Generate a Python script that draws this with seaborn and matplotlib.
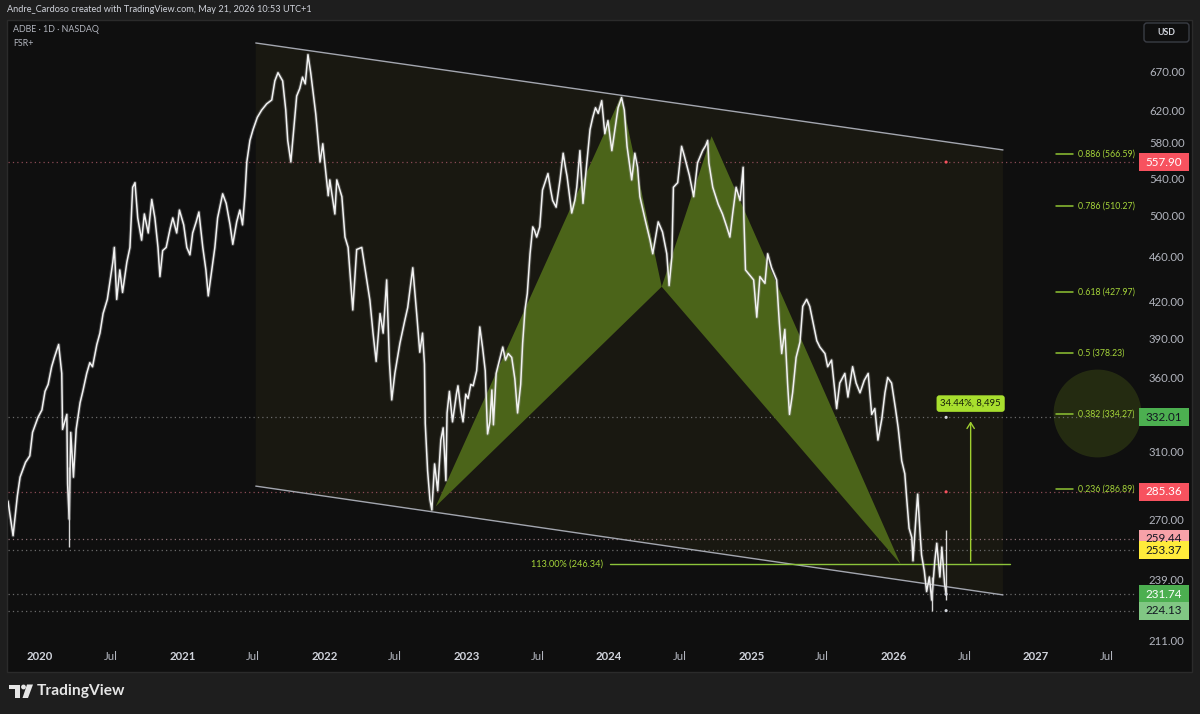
import pandas as pd
import matplotlib
matplotlib.use("Agg")
import matplotlib.pyplot as plt
import matplotlib.dates as mdates
import matplotlib.patches as mpatches
import matplotlib.transforms as mtransforms
from matplotlib.ticker import NullLocator, NullFormatter
import seaborn as sns

sns.set_theme(style="dark")
plt.rcParams["font.family"] = ["Lato", "DejaVu Sans"]

# ---------------- data ----------------
header_text = "Andre_Cardoso created with TradingView.com, May 21, 2026 10:53 UTC+1"
symbol_text = "ADBE · 1D · NASDAQ"
indicator_text = "FSR+"

price_dates = [
    "2019-10-11", "2019-10-24", "2019-11-04", "2019-11-11", "2019-11-25", "2019-12-06", "2019-12-13", "2019-12-27",
    "2020-01-06", "2020-01-14", "2020-01-22", "2020-01-31", "2020-02-07", "2020-02-18", "2020-02-26", "2020-02-28",
    "2020-03-10", "2020-03-12", "2020-03-16", "2020-03-20", "2020-03-27", "2020-04-03", "2020-04-13", "2020-04-20",
    "2020-04-30", "2020-05-08", "2020-05-15", "2020-05-26", "2020-06-03", "2020-06-11", "2020-06-22", "2020-06-29",
    "2020-07-06", "2020-07-10", "2020-07-16", "2020-07-24", "2020-07-31", "2020-08-11", "2020-08-19", "2020-08-26",
    "2020-09-01", "2020-09-08", "2020-09-18", "2020-09-25", "2020-10-05", "2020-10-14", "2020-10-22", "2020-10-30",
    "2020-11-04", "2020-11-11", "2020-11-20", "2020-11-30", "2020-12-07", "2020-12-17", "2020-12-24", "2021-01-04",
    "2021-01-12", "2021-01-20", "2021-01-27", "2021-02-05", "2021-02-12", "2021-02-22", "2021-03-02", "2021-03-08",
    "2021-03-17", "2021-03-25", "2021-04-01", "2021-04-14", "2021-04-23", "2021-05-03", "2021-05-10", "2021-05-20",
    "2021-05-28", "2021-06-04", "2021-06-10", "2021-06-15", "2021-06-23", "2021-07-01", "2021-07-12", "2021-07-23",
    "2021-08-05", "2021-08-18", "2021-08-26", "2021-09-03", "2021-09-15", "2021-09-23", "2021-09-28", "2021-10-06",
    "2021-10-11", "2021-10-21", "2021-10-29", "2021-11-05", "2021-11-12", "2021-11-19", "2021-11-26", "2021-12-09",
    "2021-12-20", "2021-12-27", "2022-01-10", "2022-01-14", "2022-01-27", "2022-02-01", "2022-02-14", "2022-02-22",
    "2022-03-02", "2022-03-14", "2022-03-24", "2022-04-06", "2022-04-19", "2022-04-27", "2022-05-05", "2022-05-13",
    "2022-05-23", "2022-05-31", "2022-06-09", "2022-06-16", "2022-06-22", "2022-06-30", "2022-07-13", "2022-07-26",
    "2022-08-02", "2022-08-15", "2022-08-25", "2022-09-02", "2022-09-09", "2022-09-14", "2022-09-16", "2022-09-22",
    "2022-09-28", "2022-10-03", "2022-10-10", "2022-10-18", "2022-10-26", "2022-11-01", "2022-11-08", "2022-11-11",
    "2022-11-17", "2022-11-25", "2022-12-05", "2022-12-09", "2022-12-16", "2022-12-22", "2022-12-29", "2023-01-04",
    "2023-01-11", "2023-01-17", "2023-01-26", "2023-02-03", "2023-02-10", "2023-02-17", "2023-02-23", "2023-03-01",
    "2023-03-06", "2023-03-10", "2023-03-17", "2023-04-03", "2023-04-10", "2023-04-17", "2023-04-26", "2023-05-04",
    "2023-05-11", "2023-05-19", "2023-05-24", "2023-05-30", "2023-06-05", "2023-06-12", "2023-06-19", "2023-06-23",
    "2023-06-29", "2023-07-07", "2023-07-14", "2023-07-28", "2023-08-04", "2023-08-09", "2023-08-18", "2023-08-28",
    "2023-09-05", "2023-09-12", "2023-09-15", "2023-09-27", "2023-10-05", "2023-10-10", "2023-10-18", "2023-10-26",
    "2023-11-03", "2023-11-13", "2023-11-20", "2023-11-27", "2023-12-04", "2023-12-13", "2023-12-21", "2023-12-29",
    "2024-01-08", "2024-01-16", "2024-01-24", "2024-02-02", "2024-02-09", "2024-02-16", "2024-02-28", "2024-03-07",
    "2024-03-14", "2024-03-20", "2024-04-02", "2024-04-15", "2024-04-22", "2024-05-06", "2024-05-17", "2024-05-28",
    "2024-06-03", "2024-06-10", "2024-06-14", "2024-06-25", "2024-07-05", "2024-07-12", "2024-07-25", "2024-08-05",
    "2024-08-15", "2024-08-28", "2024-09-05", "2024-09-10", "2024-09-13", "2024-09-23", "2024-10-07", "2024-10-18",
    "2024-10-29", "2024-11-06", "2024-11-13", "2024-11-22", "2024-12-02", "2024-12-10", "2024-12-12", "2024-12-16",
    "2025-01-06", "2025-01-14", "2025-01-22", "2025-02-04", "2025-02-11", "2025-02-21", "2025-03-06", "2025-03-13",
    "2025-03-19", "2025-03-27", "2025-04-03", "2025-04-08", "2025-04-16", "2025-04-25", "2025-05-05", "2025-05-12",
    "2025-05-22", "2025-05-30", "2025-06-06", "2025-06-17", "2025-06-25", "2025-07-08", "2025-07-15", "2025-07-25",
    "2025-08-01", "2025-08-07", "2025-08-15", "2025-08-28", "2025-09-05", "2025-09-17", "2025-09-26", "2025-10-06",
    "2025-10-17", "2025-10-27", "2025-11-05", "2025-11-13", "2025-11-21", "2025-12-01", "2025-12-09", "2025-12-16",
    "2025-12-26", "2026-01-05", "2026-01-12", "2026-01-21", "2026-01-29", "2026-02-03", "2026-02-09", "2026-02-16",
    "2026-02-19", "2026-02-26", "2026-03-03", "2026-03-09", "2026-03-13", "2026-03-20", "2026-03-26", "2026-04-02",
    "2026-04-08", "2026-04-16", "2026-04-21", "2026-04-29", "2026-05-04", "2026-05-11", "2026-05-15",
]
price_close = [
    280, 261, 283, 294, 303, 307, 322, 332,
    337, 350, 355, 368, 375, 385, 363, 324,
    334, 290, 270, 322, 294, 324, 342, 350,
    363, 371, 368, 385, 394, 410, 422, 438,
    455, 469, 422, 448, 428, 455, 469, 530,
    535, 498, 476, 502, 483, 517, 498, 469,
    442, 466, 469, 487, 498, 483, 506, 491,
    469, 462, 483, 494, 504, 469, 448, 425,
    448, 469, 498, 523, 513, 491, 472, 494,
    506, 491, 521, 558, 583, 596, 611, 620,
    628, 633, 658, 669, 658, 620, 583, 558,
    583, 638, 648, 663, 654, 694, 669, 615,
    558, 579, 521, 538, 502, 538, 520, 479,
    469, 413, 467, 469, 439, 421, 394, 372,
    410, 394, 439, 372, 344, 363, 386, 405,
    415, 450, 410, 379, 394, 370, 328, 298,
    281, 275, 302, 286, 317, 325, 292, 335,
    350, 329, 348, 354, 338, 329, 348, 345,
    355, 354, 365, 399, 383, 365, 321, 329,
    351, 327, 363, 383, 373, 378, 375, 359,
    335, 355, 386, 413, 427, 463, 489, 486,
    479, 489, 527, 545, 527, 516, 509, 538,
    568, 549, 542, 503, 516, 530, 571, 513,
    549, 596, 611, 623, 616, 632, 591, 607,
    571, 596, 623, 636, 620, 576, 538, 568,
    552, 520, 497, 476, 463, 494, 484, 463,
    434, 460, 530, 535, 576, 565, 543, 520,
    557, 571, 577, 583, 557, 530, 512, 502,
    489, 479, 502, 530, 516, 552, 497, 448,
    439, 407, 442, 436, 463, 450, 439, 402,
    378, 397, 356, 334, 349, 375, 387, 416,
    422, 416, 405, 388, 383, 378, 368, 373,
    354, 338, 356, 363, 346, 368, 356, 349,
    358, 363, 334, 338, 317, 331, 349, 360,
    356, 338, 325, 304, 296, 281, 265, 260,
    248, 269, 284, 263, 251, 243, 233, 240,
    229, 248, 257, 240, 255, 237, 231.74,
]

# long intraday wicks
wick_dates = ["2020-03-16", "2026-04-08", "2026-05-15"]
wick_low = [255.0, 224.13, 229.0]
wick_high = [300.0, 240.0, 264.0]

# parallel channel (start / end anchors)
channel_dates = ["2021-07-08", "2026-10-08"]
channel_upper = [710.7, 571.8]
channel_lower = [288.7, 231.4]

# harmonic XABCD pattern
pattern_dates = ["2022-10-13", "2024-02-01", "2024-05-15", "2024-09-20", "2026-01-18"]
pattern_prices = [277.0, 638.0, 433.0, 588.0, 246.34]

# projection line at D
proj_label = "113.00% (246.34)"
proj_price = 246.34
proj_dates = ["2024-01-03", "2026-10-25"]
proj_label_date = "2023-12-16"

# measured move from D
move_date = "2026-07-17"
move_pct = 34.44
move_label = "34.44%, 8,495"

# fibonacci retracement levels
fib_ratios = ["0.886", "0.786", "0.618", "0.5", "0.382", "0.236"]
fib_prices = [566.59, 510.27, 427.97, 378.23, 334.27, 286.89]
fib_line_dates = ["2027-02-21", "2027-04-06"]
fib_text_date = "2027-04-19"

# target zone marker
zone_date = "2027-06-06"
zone_price = 335.0

# horizontal price lines with axis tags
level_prices = [557.90, 332.01, 285.36, 259.44, 253.37, 231.74, 224.13]
level_box_colors = ["#f7525f", "#4caf50", "#f7525f", "#f7a1a8", "#ffeb3b", "#4caf50", "#81c784"]
level_text_colors = ["#ffffff", "#131722", "#ffffff", "#131722", "#131722", "#ffffff", "#131722"]
level_line_colors = ["#8c4b55", "#6b6b6b", "#8c4b55", "#8c6e74", "#6b6b6b", "#6b6b6b", "#6b6b6b"]
level_marks = [557.90, 332.01, 285.36, 231.74, 224.13]
level_mark_colors = ["#f7525f", "#d1d4dc", "#f7525f", "#d1d4dc", "#d1d4dc"]

price_ticks = [670, 620, 580, 540, 500, 460, 420, 390, 360, 310, 270, 239, 211]
year_ticks = ["2020", "2021", "2022", "2023", "2024", "2025", "2026", "2027"]
mid_ticks = ["2020-07-01", "2021-07-01", "2022-07-01", "2023-07-01", "2024-07-01",
             "2025-07-01", "2026-07-01", "2027-07-01"]

# ---------------- style ----------------
W, H = 1200, 714
BG_OUT = "#1e1e1e"
BG_PANEL = "#0f0f0f"
LIME = "#9fcf2f"
LIME_TXT = "#a6d63a"
OLIVE = "#4b6419"

fig = plt.figure(figsize=(W / 100, H / 100), dpi=100)
fig.patch.set_facecolor(BG_OUT)
ident = mtransforms.IdentityTransform()

fig.add_artist(mpatches.Rectangle((7, H - 672), 1185, 652, transform=ident,
                                  facecolor=BG_PANEL, edgecolor="#2b2b2b", lw=1, zorder=0))

ax = fig.add_axes([8 / W, (H - 645) / H, (1137 - 8) / W, (645 - 20) / H])
ax.set_facecolor("none")
for s in ax.spines.values():
    s.set_visible(False)
ax.grid(False)

to_dt = lambda seq: pd.to_datetime(pd.Series(seq))
dnum = lambda seq: mdates.date2num(pd.to_datetime(list(seq)))

# channel fill and borders
cx = dnum(channel_dates)
ax.fill([cx[0], cx[1], cx[1], cx[0]],
        [channel_upper[0], channel_upper[1], channel_lower[1], channel_lower[0]],
        color="#191811", lw=0, zorder=1)
ax.plot(cx, channel_upper, color="#a3a6af", lw=1.0, zorder=3)
ax.plot(cx, channel_lower, color="#a3a6af", lw=1.0, zorder=3)

# harmonic pattern triangles XAB and BCD
px = dnum(pattern_dates)
ax.fill(px[[0, 1, 2]], [pattern_prices[i] for i in (0, 1, 2)], color=OLIVE, lw=0, zorder=2)
ax.fill(px[[2, 3, 4]], [pattern_prices[i] for i in (2, 3, 4)], color=OLIVE, lw=0, zorder=2)

# dotted price lines
for p, c in zip(level_prices, level_line_colors):
    ax.axhline(p, color=c, lw=0.9, ls=(0, (1, 2.5)), zorder=1.5)

# price series: soft halo for the bar ranges, then the closes
sns.lineplot(x=to_dt(price_dates), y=price_close, ax=ax, color="#9a9a9a",
             linewidth=2.6, alpha=0.35, zorder=3.8)
sns.lineplot(x=to_dt(price_dates), y=price_close, ax=ax, color="#f2f2f2",
             linewidth=1.1, zorder=4)
ax.vlines(dnum(wick_dates), wick_low, wick_high, color="#d8d8d8", lw=1.0, zorder=4)

last_date = dnum([price_dates[-1]])[0]
ax.scatter([last_date] * len(level_marks), level_marks, s=5, c=level_mark_colors,
           zorder=5, linewidths=0)

# projection line at D
ax.plot(dnum(proj_dates), [proj_price, proj_price], color="#8cc43a", lw=1.0, zorder=3)
ax.text(dnum([proj_label_date])[0], proj_price, proj_label, color=LIME_TXT,
        fontsize=6.6, ha="right", va="center", zorder=5)

# measured move arrow and tag
mx = dnum([move_date])[0]
move_top = proj_price * (1 + move_pct / 100)
ax.annotate("", xy=(mx, move_top), xytext=(mx, proj_price),
            arrowprops=dict(arrowstyle="->,head_length=0.35,head_width=0.22",
                            color=LIME, lw=1.0), zorder=5)
ax.annotate(move_label, xy=(mx, move_top), xytext=(0, 15), textcoords="offset pixels",
            ha="center", va="center", fontsize=6.8, color="#16200a", zorder=6,
            bbox=dict(boxstyle="round,pad=0.4,rounding_size=0.3", fc="#a8df2e", ec="none"))

# fibonacci levels
fx = dnum(fib_line_dates)
ft = dnum([fib_text_date])[0]
for r, p in zip(fib_ratios, fib_prices):
    ax.plot(fx, [p, p], color="#8fc433", lw=1.1, zorder=3)
    ax.text(ft, p, f"{r} ({p:.2f})", color=LIME_TXT, fontsize=6.3,
            ha="left", va="center", zorder=5)

# target zone
ax.scatter([dnum([zone_date])[0]], [zone_price], s=4000, color="#262d12",
           alpha=0.95, linewidths=0, zorder=1.2, clip_on=False)

# axes scales and ticks
ax.set_yscale("log")
ax.set_ylim(209.0, 744.7)
ax.set_xlim(pd.Timestamp("2019-10-11"), pd.Timestamp("2027-09-17"))
ax.yaxis.set_minor_locator(NullLocator())
ax.yaxis.set_minor_formatter(NullFormatter())
ax.set_yticks(price_ticks)
ax.set_yticklabels([f"{v:.2f}" for v in price_ticks])
ax.yaxis.tick_right()
ax.tick_params(axis="y", length=0, pad=8.6, labelsize=8.2, colors="#b2b5be")

xt = list(pd.to_datetime([f"{y}-01-01" for y in year_ticks])) + list(pd.to_datetime(mid_ticks))
xl = year_ticks + ["Jul"] * len(mid_ticks)
ax.set_xticks(xt)
ax.set_xticklabels(xl)
ax.tick_params(axis="x", length=0, pad=4.5, labelsize=8.2, colors="#b2b5be")
for lab in ax.get_xticklabels():
    if lab.get_text() != "Jul":
        lab.set_fontweight("bold")
        lab.set_color("#d1d4dc")
ax.set_xlabel("")
ax.set_ylabel("")

# mask the time-scale strip under the price scale
fig.add_artist(mpatches.Rectangle((1137, H - 671), 54, 26, transform=ident,
                                  facecolor=BG_PANEL, lw=0, zorder=5))

# price tags on the scale
for p, fc, tc in zip(level_prices, level_box_colors, level_text_colors):
    yd = ax.transData.transform((0, p))[1]
    fig.add_artist(mpatches.Rectangle((1139, yd - 9), 50, 18, transform=ident,
                                      facecolor=fc, lw=0, zorder=6))
    fig.text(1164 / W, yd / H, f"{p:.2f}", color=tc, fontsize=8.4,
             ha="center", va="center", zorder=7)

# header and legend texts
fig.text(7 / W, 1 - 10 / H, header_text, color="#d1d4dc", fontsize=6.6, ha="left", va="center")
fig.text(13 / W, 1 - 30 / H, symbol_text, color="#b2b5be", fontsize=6.4, ha="left", va="center")
fig.text(13 / W, 1 - 43 / H, indicator_text, color="#b2b5be", fontsize=6.4, ha="left", va="center")

# currency button
fig.add_artist(mpatches.FancyBboxPatch((1144, H - 42), 45, 19, transform=ident,
                                       boxstyle="round,pad=0,rounding_size=3",
                                       facecolor=BG_PANEL, edgecolor="#3a3d45", lw=1, zorder=6))
fig.text(1157 / W, 1 - 32.5 / H, "USD", color="#d1d4dc", fontsize=6.3,
         fontweight="bold", ha="left", va="center", zorder=7)

# brand mark at the bottom
fig.add_artist(mpatches.Rectangle((9, H - 689), 11, 4.5, transform=ident, facecolor="#e6e6e6", lw=0))
fig.add_artist(mpatches.Rectangle((15, H - 698), 5, 13, transform=ident, facecolor="#e6e6e6", lw=0))
fig.add_artist(mpatches.Circle((23.5, H - 687), 2.4, transform=ident, facecolor="#e6e6e6", lw=0))
fig.add_artist(mpatches.Polygon([(27, H - 684.5), (33, H - 684.5), (28, H - 698), (22.5, H - 698)],
                                closed=True, transform=ident, facecolor="#e6e6e6", lw=0))
fig.text(37 / W, 1 - 691 / H, "TradingView", color="#e6e6e6", fontsize=11.2,
         fontweight="bold", ha="left", va="center")

fig.savefig("out.png", dpi=100, facecolor=fig.get_facecolor())
